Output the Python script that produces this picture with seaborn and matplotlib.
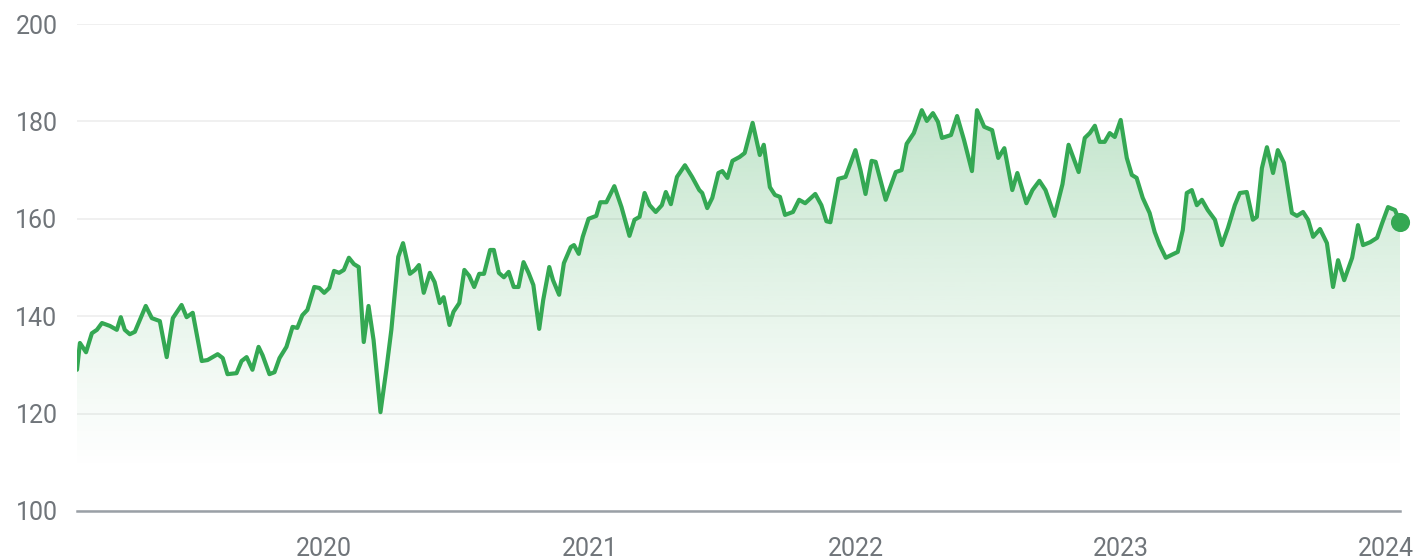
import numpy as np
import pandas as pd
import matplotlib
matplotlib.use("Agg")
import matplotlib.pyplot as plt
import seaborn as sns

# Decimal-year positions of the traced points
year_pos = [
    2019.068, 2019.079, 2019.102, 2019.124, 2019.143, 2019.162, 2019.192, 2019.218, 2019.233, 2019.248,
    2019.267, 2019.286, 2019.327, 2019.350, 2019.380, 2019.406, 2019.429, 2019.462, 2019.481, 2019.504,
    2019.538, 2019.560, 2019.598, 2019.617, 2019.635, 2019.669, 2019.688, 2019.707, 2019.729, 2019.752,
    2019.767, 2019.793, 2019.812, 2019.831, 2019.857, 2019.880, 2019.898, 2019.917, 2019.936, 2019.962,
    2019.981, 2020.000, 2020.019, 2020.037, 2020.056, 2020.074, 2020.093, 2020.112, 2020.130, 2020.149,
    2020.167, 2020.186, 2020.212, 2020.234, 2020.253, 2020.279, 2020.297, 2020.323, 2020.342, 2020.357,
    2020.375, 2020.398, 2020.416, 2020.435, 2020.450, 2020.472, 2020.487, 2020.509, 2020.528, 2020.546,
    2020.565, 2020.584, 2020.602, 2020.625, 2020.639, 2020.658, 2020.677, 2020.695, 2020.714, 2020.732,
    2020.751, 2020.770, 2020.788, 2020.810, 2020.825, 2020.848, 2020.862, 2020.885, 2020.903, 2020.929,
    2020.941, 2020.959, 2020.974, 2020.996, 2021.023, 2021.038, 2021.061, 2021.091, 2021.118, 2021.148,
    2021.167, 2021.186, 2021.205, 2021.224, 2021.247, 2021.270, 2021.285, 2021.304, 2021.327, 2021.357,
    2021.384, 2021.411, 2021.422, 2021.441, 2021.460, 2021.483, 2021.498, 2021.517, 2021.536, 2021.563,
    2021.582, 2021.612, 2021.639, 2021.654, 2021.677, 2021.696, 2021.715, 2021.734, 2021.764, 2021.787,
    2021.810, 2021.848, 2021.871, 2021.890, 2021.905, 2021.935, 2021.962, 2022.000, 2022.019, 2022.038,
    2022.061, 2022.076, 2022.114, 2022.152, 2022.174, 2022.193, 2022.220, 2022.250, 2022.269, 2022.292,
    2022.311, 2022.326, 2022.360, 2022.383, 2022.409, 2022.439, 2022.458, 2022.485, 2022.515, 2022.538,
    2022.561, 2022.591, 2022.610, 2022.644, 2022.667, 2022.693, 2022.716, 2022.750, 2022.780, 2022.803,
    2022.841, 2022.864, 2022.883, 2022.902, 2022.920, 2022.939, 2022.958, 2022.977, 2023.000, 2023.023,
    2023.042, 2023.060, 2023.083, 2023.109, 2023.128, 2023.147, 2023.170, 2023.192, 2023.215, 2023.234,
    2023.249, 2023.268, 2023.287, 2023.306, 2023.328, 2023.355, 2023.381, 2023.404, 2023.430, 2023.449,
    2023.475, 2023.498, 2023.513, 2023.532, 2023.551, 2023.574, 2023.592, 2023.615, 2023.645, 2023.664,
    2023.687, 2023.706, 2023.725, 2023.751, 2023.777, 2023.800, 2023.819, 2023.842, 2023.872, 2023.894,
    2023.913, 2023.940, 2023.966, 2023.985, 2024.008, 2024.034, 2024.053,
]

prices = [
    129.0, 134.5, 132.6, 136.5, 137.2, 138.6, 138.0, 137.2, 139.8, 137.2,
    136.3, 136.8, 142.1, 139.6, 139.0, 131.6, 139.6, 142.3, 139.8, 140.7,
    130.8, 131.0, 132.2, 131.4, 128.1, 128.3, 130.8, 131.6, 129.0, 133.7,
    132.0, 128.1, 128.5, 131.4, 133.7, 137.8, 137.6, 140.2, 141.3, 146.0,
    145.8, 144.8, 145.8, 149.3, 148.9, 149.5, 152.0, 150.7, 150.1, 134.7,
    142.1, 135.1, 120.3, 129.0, 137.2, 152.2, 155.0, 148.7, 149.5, 150.5,
    144.8, 148.9, 147.0, 142.7, 143.9, 138.2, 140.9, 142.7, 149.5, 148.3,
    146.0, 148.7, 148.7, 153.6, 153.6, 148.9, 148.0, 149.1, 146.0, 146.0,
    151.1, 148.9, 146.4, 137.4, 143.3, 150.1, 147.4, 144.4, 150.9, 154.2,
    154.6, 152.8, 156.3, 160.0, 160.6, 163.4, 163.4, 166.7, 162.4, 156.5,
    159.8, 160.4, 165.3, 162.8, 161.4, 162.8, 165.5, 163.0, 168.6, 171.0,
    168.6, 165.9, 165.3, 162.2, 164.3, 169.4, 169.8, 168.4, 171.9, 172.7,
    173.5, 179.7, 173.1, 175.2, 166.5, 164.9, 164.5, 160.8, 161.4, 163.9,
    163.2, 165.1, 162.8, 159.5, 159.3, 168.2, 168.6, 174.1, 170.0, 165.1,
    171.9, 171.7, 163.9, 169.6, 170.0, 175.4, 177.6, 182.3, 180.1, 181.7,
    179.9, 176.6, 177.2, 181.1, 176.2, 169.8, 182.3, 178.9, 178.2, 172.5,
    174.5, 165.9, 169.4, 163.2, 165.9, 167.8, 165.9, 160.6, 167.1, 175.2,
    169.6, 176.6, 177.6, 179.1, 175.8, 175.8, 177.6, 176.8, 180.3, 172.5,
    169.0, 168.4, 164.3, 161.2, 157.3, 154.6, 152.0, 152.6, 153.2, 157.7,
    165.3, 165.9, 162.8, 163.9, 161.8, 159.8, 154.6, 158.1, 162.8, 165.3,
    165.5, 159.8, 160.4, 170.4, 174.7, 169.4, 174.1, 171.5, 161.2, 160.6,
    161.4, 159.8, 156.3, 157.9, 155.0, 146.0, 151.5, 147.4, 152.0, 158.7,
    154.6, 155.2, 156.1, 159.1, 162.4, 161.8, 159.3,
]

y_ticks = [100, 120, 140, 160, 180, 200]
x_tick_years = [2020, 2021, 2022, 2023, 2024]

GREEN = "#34a853"
TEXT = "#70757a"

def to_date(y):
    yr = int(np.floor(y))
    return pd.Timestamp(yr, 1, 1) + pd.Timedelta(days=(y - yr) * 365.25)

df = pd.DataFrame({"date": [to_date(y) for y in year_pos], "price": prices})

sns.set_theme(style="white")
plt.rcParams["font.family"] = ["Roboto", "DejaVu Sans"]

fig = plt.figure(figsize=(14.16, 5.6), dpi=100)
ax = fig.add_axes([77 / 1416, 49 / 560, (1400 - 77) / 1416, (511 - 24) / 560])

# gradient fill under the line
xnum = matplotlib.dates.date2num(df["date"])
poly = ax.fill_between(df["date"], df["price"], 100, color="none", lw=0)
n = 256
alpha = np.clip((np.linspace(183, 100, n) - 108) / (183 - 108), 0, 1) ** 1.15 * 0.30
rgba = np.zeros((n, 1, 4))
rgba[..., 0], rgba[..., 1], rgba[..., 2] = matplotlib.colors.to_rgb(GREEN)
rgba[:, 0, 3] = alpha
img = ax.imshow(rgba, aspect="auto", extent=[xnum[0], xnum[-1], 100, 183],
                origin="upper", zorder=1, interpolation="bilinear")
img.set_clip_path(poly.get_paths()[0], transform=ax.transData)

sns.lineplot(data=df, x="date", y="price", ax=ax, color=GREEN, linewidth=3.0,
             zorder=3, solid_joinstyle="round", solid_capstyle="round")
ax.scatter([df["date"].iloc[-1]], [df["price"].iloc[-1]], s=190, color=GREEN,
           zorder=4, clip_on=False, linewidths=0)

ax.set_xlim(df["date"].iloc[0], df["date"].iloc[-1])
ax.set_ylim(100, 200)
ax.set_yticks(y_ticks)
ax.set_yticklabels([str(v) for v in y_ticks])
ax.set_xticks([pd.Timestamp(y, 1, 1) for y in x_tick_years])
ax.set_xticklabels([str(y) for y in x_tick_years])
ax.set_xlabel("")
ax.set_ylabel("")

ax.grid(axis="y", color="#eeeeee", lw=1.2, zorder=0)
ax.grid(axis="x", visible=False)
for s in ["top", "right", "left"]:
    ax.spines[s].set_visible(False)
ax.spines["bottom"].set_color("#9aa0a6")
ax.spines["bottom"].set_linewidth(1.8)
ax.spines["bottom"].set_zorder(5)

ax.tick_params(axis="y", length=0, pad=14, labelsize=18, labelcolor=TEXT)
ax.tick_params(axis="x", length=6, width=2, color="#5f6368", pad=13,
               labelsize=18, labelcolor=TEXT)

fig.savefig("out.png", dpi=100, facecolor="white")
